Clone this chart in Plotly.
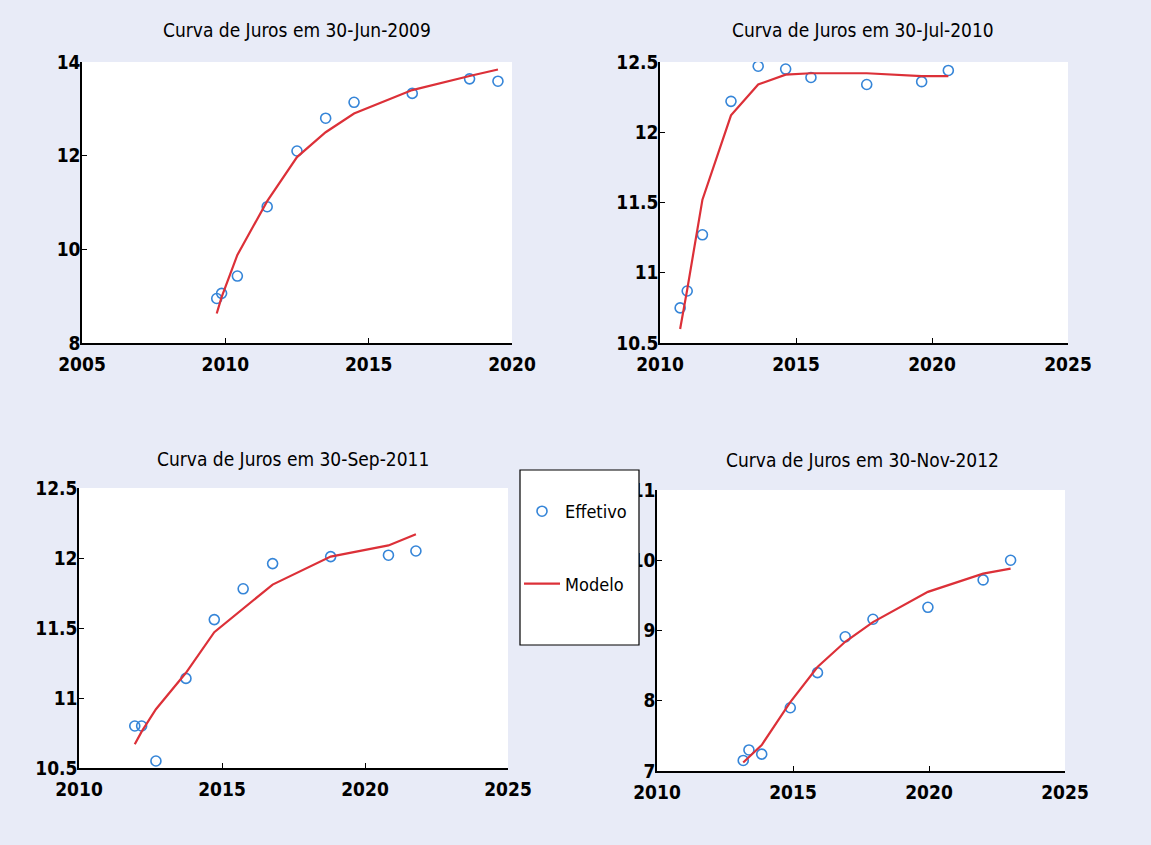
import plotly.graph_objects as go

# Yield-curve snapshots: observed rates (Effetivo) vs fitted model (Modelo)
titles = [
    "Curva de Juros em 30-Jun-2009",
    "Curva de Juros em 30-Jul-2010",
    "Curva de Juros em 30-Sep-2011",
    "Curva de Juros em 30-Nov-2012",
]

mat_2009 = [2009.70, 2009.87, 2010.42, 2011.46, 2012.50, 2013.50, 2014.49, 2016.52, 2018.52, 2019.51]
obs_2009 = [8.95, 9.06, 9.43, 10.91, 12.10, 12.80, 13.14, 13.33, 13.64, 13.59]
mod_2009 = [8.63, 8.98, 9.88, 11.03, 11.97, 12.50, 12.90, 13.40, 13.70, 13.84]

mat_2010 = [2010.74, 2011.00, 2011.56, 2012.61, 2013.61, 2014.62, 2015.55, 2017.60, 2019.62, 2020.60]
obs_2010 = [10.75, 10.87, 11.27, 12.22, 12.47, 12.45, 12.39, 12.34, 12.36, 12.44]
mod_2010 = [10.60, 10.88, 11.52, 12.12, 12.34, 12.41, 12.42, 12.42, 12.40, 12.40]

mat_2011 = [2011.95, 2012.19, 2012.69, 2013.74, 2014.73, 2015.74, 2016.77, 2018.80, 2020.82, 2021.78]
obs_2011 = [10.80, 10.80, 10.55, 11.14, 11.56, 11.78, 11.96, 12.01, 12.02, 12.05]
mod_2011 = [10.67, 10.76, 10.92, 11.18, 11.47, 11.64, 11.81, 12.01, 12.09, 12.17]

mat_2012 = [2013.17, 2013.38, 2013.85, 2014.90, 2015.90, 2016.92, 2017.94, 2019.96, 2021.99, 2023.00]
obs_2012 = [7.15, 7.30, 7.24, 7.90, 8.40, 8.91, 9.16, 9.33, 9.72, 10.00]
mod_2012 = [7.12, 7.20, 7.37, 7.98, 8.48, 8.84, 9.12, 9.55, 9.81, 9.88]

x_ticks_2009 = [2005, 2010, 2015, 2020]
x_ticks_other = [2010, 2015, 2020, 2025]
y_ticks_2009 = [8, 10, 12, 14]
y_ticks_2010 = [10.5, 11, 11.5, 12, 12.5]
y_ticks_2011 = [10.5, 11, 11.5, 12, 12.5]
y_ticks_2012 = [7, 8, 9, 10, 11]

panels = [
    (mat_2009, obs_2009, mod_2009, x_ticks_2009, y_ticks_2009),
    (mat_2010, obs_2010, mod_2010, x_ticks_other, y_ticks_2010),
    (mat_2011, obs_2011, mod_2011, x_ticks_other, y_ticks_2011),
    (mat_2012, obs_2012, mod_2012, x_ticks_other, y_ticks_2012),
]

W, H = 1151, 845
# plot areas in pixels: left, right, top, bottom
boxes = [
    (82, 512, 62, 343),
    (660, 1068, 62, 343),
    (79, 508, 488, 768),
    (657, 1065, 490, 771),
]
title_pos = [(297, 30), (863, 30), (293, 459), (862, 460)]

FONT = "DejaVu Sans Condensed, DejaVu Sans, sans-serif"
BLUE = "#3585d8"
RED = "#dc3038"

fig = go.Figure()
layout = dict(
    width=W, height=H,
    margin=dict(l=0, r=0, t=0, b=0),
    paper_bgcolor="#e8ebf7",
    plot_bgcolor="white",
    font=dict(family=FONT, size=20, color="black"),
    showlegend=True,
    annotations=[],
    shapes=[],
)

for i, (mat, obs, mod, xt, yt) in enumerate(panels):
    n = "" if i == 0 else str(i + 1)
    xa, ya = "x" + n, "y" + n
    fig.add_trace(go.Scatter(
        x=mat, y=obs, mode="markers", name="Effetivo",
        marker=dict(symbol="circle-open", size=10, color=BLUE, line=dict(width=1.6)),
        xaxis=xa, yaxis=ya, showlegend=(i == 0), legendgroup="a",
    ))
    fig.add_trace(go.Scatter(
        x=mat, y=mod, mode="lines", name="Modelo",
        line=dict(color=RED, width=2.2),
        xaxis=xa, yaxis=ya, showlegend=(i == 0), legendgroup="b",
    ))
    l, r, t, b = boxes[i]
    axis_common = dict(
        showline=True, linecolor="black", linewidth=1.5,
        ticks="inside", ticklen=5, tickcolor="black", tickwidth=1.2,
        showgrid=False, zeroline=False, mirror=False, automargin=False,
        tickfont=dict(family=FONT, size=19, color="black", weight="bold"),
    )
    layout["xaxis" + n] = dict(
        axis_common, domain=[l / W, r / W], anchor=ya,
        range=[xt[0], xt[-1]], tickvals=xt, ticktext=[str(v) for v in xt],
        ticklabelstandoff=3,
    )
    layout["yaxis" + n] = dict(
        axis_common, domain=[1 - b / H, 1 - t / H], anchor=xa,
        range=[yt[0], yt[-1]], tickvals=yt, ticktext=[f"{v:g}" for v in yt],
        ticklabelstandoff=-4,
    )
    tx, ty = title_pos[i]
    layout["annotations"].append(dict(
        text=titles[i], x=tx / W, y=1 - ty / H, xref="paper", yref="paper",
        xanchor="center", yanchor="middle", showarrow=False,
        font=dict(family=FONT, size=19, color="black"),
    ))

# white framed box behind the legend entries
layout["shapes"].append(dict(
    type="rect", xref="paper", yref="paper",
    x0=520 / W, x1=639 / W, y0=1 - 645 / H, y1=1 - 470 / H,
    fillcolor="white", line=dict(color="black", width=1.2), layer="above",
))

layout["legend"] = dict(
    x=519 / W, y=1 - 493 / H, xanchor="left", yanchor="top",
    bgcolor="rgba(0,0,0,0)", borderwidth=0,
    font=dict(family=FONT, size=18, color="black"),
    traceorder="grouped", tracegroupgap=46, itemwidth=36,
)

fig.update_layout(**layout)
fig.write_html("out.html")
